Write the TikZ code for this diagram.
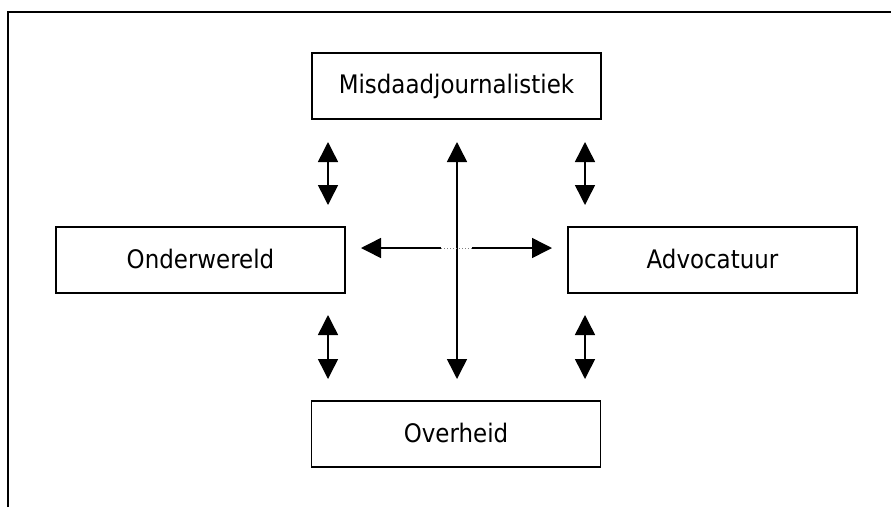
\documentclass[tikz,border=0pt]{standalone}
\usepackage{fontspec}
\setmainfont{DejaVu Sans Condensed}
\usetikzlibrary{arrows.meta}
\begin{document}
\begin{tikzpicture}[x=1pt,y=-1pt,
  box/.style={draw,line width=1.5pt,minimum width=289pt,minimum height=66pt,inner sep=0pt,font=\fontsize{25.5}{30}\selectfont},
  dbl/.style={line width=1.5pt,{Triangle[length=20pt,width=20pt]}-{Triangle[length=20pt,width=20pt]}},
  sgl/.style={line width=1.5pt,-{Triangle[length=20pt,width=20pt]}}]
\useasboundingbox (0,0) rectangle (891,507);
\draw[line width=1.5pt] (8,507) -- (8,12) -- (891,12);
\node[box] (mis) at (456.5,86) {\raisebox{3pt}{Misdaadjournalistiek}};
\node[box] (ond) at (200.5,260) {\raisebox{3pt}{Onderwereld}};
\node[box] (adv) at (712.5,260) {\raisebox{3pt}{Advocatuur}};
\node[box] (ovh) at (456,434) {\raisebox{3pt}{Overheid}};
\coordinate (a1) at (328,142); \coordinate (a2) at (328,205);
\coordinate (b1) at (585,142); \coordinate (b2) at (585,205);
\coordinate (c1) at (328,315); \coordinate (c2) at (328,379);
\coordinate (d1) at (585,315); \coordinate (d2) at (585,379);
\coordinate (e1) at (457,142); \coordinate (e2) at (457,379);
\coordinate (h1) at (361,248); \coordinate (h2) at (441,248);
\coordinate (h3) at (472,248); \coordinate (h4) at (552,248);
\draw[dbl] (a1) -- (a2);
\draw[dbl] (b1) -- (b2);
\draw[dbl] (c1) -- (c2);
\draw[dbl] (d1) -- (d2);
\draw[dbl] (e1) -- (e2);
\draw[sgl] (h2) -- (h1);
\draw[sgl] (h3) -- (h4);
\draw[gray,line width=1pt,dotted] (h2) -- (h3);
\end{tikzpicture}
\end{document}
